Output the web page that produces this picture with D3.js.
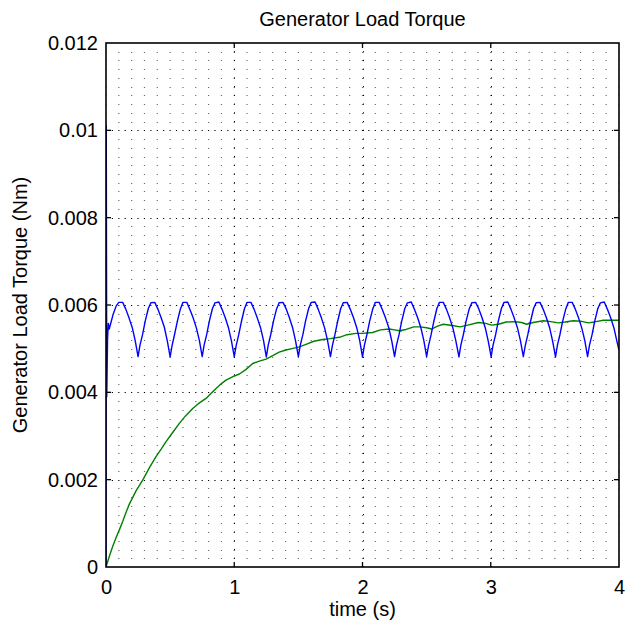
<!DOCTYPE html>
<html>
<head>
<meta charset="utf-8">
<script src="https://cdn.jsdelivr.net/npm/d3@7"></script>
<style>
  html, body { margin: 0; padding: 0; background: #fff; }
  svg { display: block; }
  text { font-family: "Liberation Sans", Arial, Helvetica, sans-serif; fill: #000; }
</style>
</head>
<body>
<svg id="chart" width="626" height="630"></svg>
<script>
// ---------------- data ----------------
const titleText = "Generator Load Torque";
const xLabelText = "time (s)";
const yLabelText = "Generator Load Torque (Nm)";

const xDomain = [0, 4];
const yDomain = [0, 0.012];
const xTicks = [0, 1, 2, 3, 4];
const yTicks = [0, 0.002, 0.004, 0.006, 0.008, 0.010, 0.012];
const yTickLabels = ["0", "0.002", "0.004", "0.006", "0.008", "0.01", "0.012"];
const xMinorStep = 0.1;
const yMinorStep = 0.0002;

// blue series: [time, torque]
const blueSeries = [
  [0, 0], [0.002, 0.0101], [0.006, 0.0039], [0.012, 0.0052], [0.018, 0.00558], [0.025, 0.00545],
  [0.035, 0.00556], [0.055, 0.00578], [0.08, 0.00598], [0.1, 0.00606], [0.13, 0.00606], [0.155, 0.00590],
  [0.18, 0.00570], [0.205, 0.00548], [0.228, 0.00518],
  [0.25, 0.00482], [0.265, 0.00508], [0.285, 0.00532], [0.305, 0.00562], [0.33, 0.00592], [0.35, 0.00605], [0.38, 0.00606], [0.405, 0.00590], [0.43, 0.00571], [0.455, 0.00549], [0.478, 0.00518],
  [0.5, 0.00481], [0.515, 0.00507], [0.535, 0.00533], [0.555, 0.00561], [0.58, 0.00591], [0.6, 0.00606], [0.63, 0.00606], [0.655, 0.00589], [0.68, 0.00570], [0.705, 0.00547], [0.728, 0.00519],
  [0.75, 0.00482], [0.765, 0.00508], [0.785, 0.00532], [0.805, 0.00562], [0.83, 0.00592], [0.85, 0.00605], [0.88, 0.00607], [0.905, 0.00590], [0.93, 0.00571], [0.955, 0.00548], [0.978, 0.00518],
  [1.0, 0.00482], [1.015, 0.00507], [1.035, 0.00532], [1.055, 0.00561], [1.08, 0.00592], [1.1, 0.00606], [1.13, 0.00606], [1.155, 0.00590], [1.18, 0.00570], [1.205, 0.00548], [1.228, 0.00519],
  [1.25, 0.00481], [1.265, 0.00508], [1.285, 0.00533], [1.305, 0.00562], [1.33, 0.00591], [1.35, 0.00605], [1.38, 0.00606], [1.405, 0.00591], [1.43, 0.00571], [1.455, 0.00548], [1.478, 0.00518],
  [1.5, 0.00482], [1.515, 0.00508], [1.535, 0.00532], [1.555, 0.00562], [1.58, 0.00592], [1.6, 0.00606], [1.63, 0.00607], [1.655, 0.00590], [1.68, 0.00570], [1.705, 0.00547], [1.728, 0.00518],
  [1.75, 0.00482], [1.765, 0.00507], [1.785, 0.00532], [1.805, 0.00561], [1.83, 0.00592], [1.85, 0.00605], [1.88, 0.00606], [1.905, 0.00590], [1.93, 0.00571], [1.955, 0.00548], [1.978, 0.00519],
  [2.0, 0.00481], [2.015, 0.00508], [2.035, 0.00533], [2.055, 0.00562], [2.08, 0.00591], [2.1, 0.00606], [2.13, 0.00606], [2.155, 0.00589], [2.18, 0.00570], [2.205, 0.00548], [2.228, 0.00518],
  [2.25, 0.00482], [2.265, 0.00508], [2.285, 0.00532], [2.305, 0.00562], [2.33, 0.00592], [2.35, 0.00605], [2.38, 0.00607], [2.405, 0.00590], [2.43, 0.00571], [2.455, 0.00548], [2.478, 0.00519],
  [2.5, 0.00482], [2.515, 0.00507], [2.535, 0.00532], [2.555, 0.00561], [2.58, 0.00592], [2.6, 0.00606], [2.63, 0.00606], [2.655, 0.00590], [2.68, 0.00570], [2.705, 0.00547], [2.728, 0.00518],
  [2.752, 0.00481], [2.767, 0.00508], [2.787, 0.00533], [2.807, 0.00562], [2.832, 0.00591], [2.852, 0.00605], [2.882, 0.00606], [2.907, 0.00591], [2.932, 0.00571], [2.957, 0.00548], [2.98, 0.00518],
  [3.003, 0.00482], [3.018, 0.00508], [3.038, 0.00532], [3.058, 0.00562], [3.083, 0.00592], [3.103, 0.00606], [3.133, 0.00607], [3.158, 0.00590], [3.183, 0.00570], [3.208, 0.00548], [3.231, 0.00519],
  [3.254, 0.00482], [3.269, 0.00507], [3.289, 0.00532], [3.309, 0.00561], [3.334, 0.00592], [3.354, 0.00605], [3.384, 0.00606], [3.409, 0.00590], [3.434, 0.00571], [3.459, 0.00548], [3.482, 0.00518],
  [3.505, 0.00481], [3.52, 0.00508], [3.54, 0.00533], [3.56, 0.00562], [3.585, 0.00591], [3.605, 0.00606], [3.635, 0.00606], [3.66, 0.00590], [3.685, 0.00570], [3.71, 0.00547], [3.733, 0.00519],
  [3.755, 0.00482], [3.77, 0.00508], [3.79, 0.00532], [3.81, 0.00562], [3.835, 0.00592], [3.855, 0.00605], [3.885, 0.00607], [3.91, 0.00590], [3.935, 0.00571], [3.96, 0.00548], [3.983, 0.00518],
  [4.0, 0.00497]
];

// green series: [time, torque]
const greenSeries = [
  [0, 0], [0.013, 0.00012], [0.03, 0.00028], [0.052, 0.00047], [0.078, 0.00067], [0.104, 0.00085],
  [0.13, 0.00104], [0.155, 0.00124], [0.182, 0.00144],
  [0.235, 0.00175], [0.286, 0.00199], [0.34, 0.00228], [0.39, 0.00253], [0.43, 0.00270], [0.468, 0.00287],
  [0.52, 0.00308], [0.572, 0.00329], [0.62, 0.00346], [0.676, 0.00363], [0.72, 0.00374], [0.78, 0.00386],
  [0.82, 0.00398], [0.858, 0.00409], [0.9, 0.00420], [0.936, 0.00428], [0.99, 0.00436], [1.04, 0.00442],
  [1.09, 0.00452], [1.144, 0.00466], [1.19, 0.00471], [1.248, 0.00476], [1.3, 0.00484], [1.35, 0.00492],
  [1.403, 0.00497], [1.45, 0.00500], [1.507, 0.00504], [1.56, 0.00510], [1.62, 0.00517], [1.689, 0.00521],
  [1.75, 0.00523], [1.819, 0.00526], [1.88, 0.00532], [1.949, 0.00535], [2.0, 0.00535], [2.079, 0.00537],
  [2.14, 0.00543], [2.209, 0.00545], [2.25, 0.00543], [2.287, 0.00541], [2.339, 0.00544], [2.40, 0.00550],
  [2.448, 0.00550], [2.5, 0.00548], [2.539, 0.00545], [2.58, 0.00551], [2.63, 0.00556], [2.70, 0.00553],
  [2.76, 0.00550], [2.82, 0.00554], [2.903, 0.00560], [2.96, 0.00558], [3.007, 0.00554], [3.06, 0.00556],
  [3.12, 0.00561], [3.189, 0.00562], [3.24, 0.00560], [3.28, 0.00556], [3.33, 0.00560], [3.41, 0.00564],
  [3.47, 0.00562], [3.527, 0.00559], [3.58, 0.00561], [3.644, 0.00564], [3.70, 0.00563], [3.761, 0.00559],
  [3.82, 0.00562], [3.878, 0.00565], [4.0, 0.00565]
];

// ---------------- layout ----------------
const W = 626, H = 630;
const margin = { left: 106, right: 7, top: 43, bottom: 63 };
const plotW = W - margin.left - margin.right;
const plotH = H - margin.top - margin.bottom;

const svg = d3.select("#chart");
const x = d3.scaleLinear().domain(xDomain).range([margin.left, margin.left + plotW]);
const y = d3.scaleLinear().domain(yDomain).range([margin.top + plotH, margin.top]);

const fontSize = 20;

// ---------------- grid (dotted, MATLAB style) ----------------
const grid = svg.append("g");
const xMinorPx = x(xMinorStep) - x(0);
const yMinorPx = y(0) - y(yMinorStep);
const nX = Math.round((xDomain[1] - xDomain[0]) / xMinorStep);
const nY = Math.round((yDomain[1] - yDomain[0]) / yMinorStep);
const yGridVals = d3.range(1, nY).map(i => yDomain[0] + i * yMinorStep);
const xGridVals = d3.range(1, nX).map(i => xDomain[0] + i * xMinorStep);
const isMajorY = v => Math.abs(v / 0.002 - Math.round(v / 0.002)) < 1e-6;
const isMajorX = v => Math.abs(v - Math.round(v)) < 1e-6;

grid.selectAll("line.hminor")
  .data(yGridVals)
  .join("line")
  .attr("x1", x(xDomain[0])).attr("x2", x(xDomain[1]))
  .attr("y1", d => Math.round(y(d)) + 0.5).attr("y2", d => Math.round(y(d)) + 0.5)
  .attr("stroke", d => isMajorY(d) ? "#000" : "#6a6a6a")
  .attr("stroke-width", 1)
  .attr("stroke-dasharray", d => isMajorY(d)
      ? `1.2,${(xMinorPx / 2 - 1.2).toFixed(3)}`
      : `1.2,${(xMinorPx - 1.2).toFixed(3)}`)
  .attr("stroke-dashoffset", 0.6);

grid.selectAll("line.vmajor")
  .data(xGridVals.filter(isMajorX))
  .join("line")
  .attr("x1", d => Math.round(x(d)) + 0.5).attr("x2", d => Math.round(x(d)) + 0.5)
  .attr("y1", y(yDomain[0])).attr("y2", y(yDomain[1]))
  .attr("stroke", "#000")
  .attr("stroke-width", 1)
  .attr("stroke-dasharray", `1.2,${(yMinorPx - 1.2).toFixed(3)}`)
  .attr("stroke-dashoffset", 0.6);

// ---------------- lines ----------------
const line = d3.line().x(d => x(d[0])).y(d => y(d[1]));

svg.append("clipPath").attr("id", "plotclip")
  .append("rect")
  .attr("x", x(xDomain[0])).attr("y", y(yDomain[1]))
  .attr("width", x(xDomain[1]) - x(xDomain[0]))
  .attr("height", y(yDomain[0]) - y(yDomain[1]));

const plotG = svg.append("g").attr("clip-path", "url(#plotclip)");
plotG.append("path").datum(greenSeries)
  .attr("d", line).attr("fill", "none")
  .attr("stroke", "#008000").attr("stroke-width", 1.4)
  .attr("stroke-linejoin", "round");
plotG.append("path").datum(blueSeries)
  .attr("d", line).attr("fill", "none")
  .attr("stroke", "#0000ff").attr("stroke-width", 1.4)
  .attr("stroke-linejoin", "round");

// ---------------- axes ----------------
const tickLen = 5;
const axisBottom = d3.axisBottom(x).tickValues(xTicks).tickSize(0).tickPadding(13).tickFormat(d3.format("d"));
const axisLeft = d3.axisLeft(y).tickValues(yTicks).tickSize(0).tickPadding(8)
  .tickFormat((d, i) => yTickLabels[i]);

const gx = svg.append("g").attr("transform", `translate(0,${y(yDomain[0])})`).call(axisBottom);
const gy = svg.append("g").attr("transform", `translate(${x(xDomain[0])},0)`).call(axisLeft);
[gx, gy].forEach(g => {
  g.select(".domain").remove();
  g.selectAll("text").attr("font-size", fontSize)
    .attr("font-family", "'Liberation Sans', Arial, Helvetica, sans-serif").attr("fill", "#000");
});

// inward ticks on all four sides
const ticksG = svg.append("g").attr("stroke", "#000").attr("stroke-width", 1.3);
xTicks.slice(1, -1).forEach(t => {
  ticksG.append("line").attr("x1", x(t)).attr("x2", x(t))
    .attr("y1", y(yDomain[0])).attr("y2", y(yDomain[0]) - tickLen);
  ticksG.append("line").attr("x1", x(t)).attr("x2", x(t))
    .attr("y1", y(yDomain[1])).attr("y2", y(yDomain[1]) + tickLen);
});
yTicks.slice(1, -1).forEach(t => {
  ticksG.append("line").attr("x1", x(xDomain[0])).attr("x2", x(xDomain[0]) + tickLen)
    .attr("y1", y(t)).attr("y2", y(t));
  ticksG.append("line").attr("x1", x(xDomain[1])).attr("x2", x(xDomain[1]) - tickLen)
    .attr("y1", y(t)).attr("y2", y(t));
});

// box
svg.append("rect")
  .attr("x", x(xDomain[0])).attr("y", y(yDomain[1]))
  .attr("width", x(xDomain[1]) - x(xDomain[0]))
  .attr("height", y(yDomain[0]) - y(yDomain[1]))
  .attr("fill", "none").attr("stroke", "#000").attr("stroke-width", 1.6);

// ---------------- titles ----------------
const cx = (x(xDomain[0]) + x(xDomain[1])) / 2;
const cy = (y(yDomain[0]) + y(yDomain[1])) / 2;
svg.append("text").attr("x", cx).attr("y", 26)
  .attr("text-anchor", "middle").attr("font-size", fontSize).text(titleText);
svg.append("text").attr("x", cx).attr("y", 616)
  .attr("text-anchor", "middle").attr("font-size", fontSize).text(xLabelText);
svg.append("text")
  .attr("transform", `translate(27,${cy}) rotate(-90)`)
  .attr("text-anchor", "middle").attr("font-size", fontSize).text(yLabelText);
</script>
</body>
</html>
